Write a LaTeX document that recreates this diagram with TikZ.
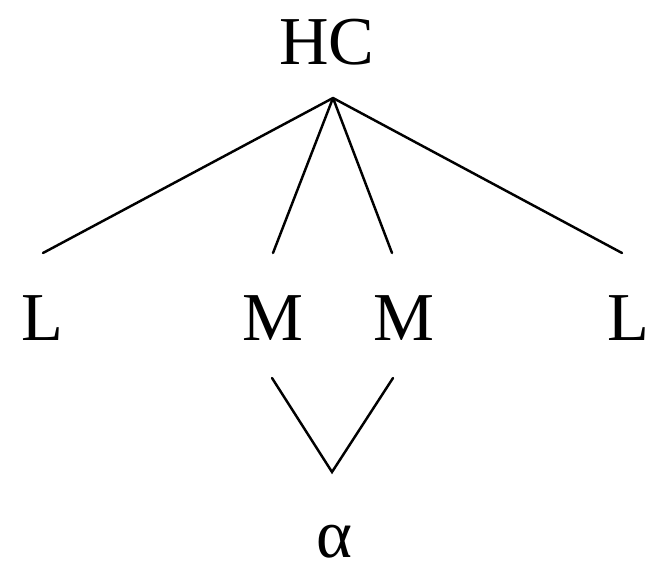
\documentclass[tikz,border=0pt]{standalone}
\usepackage{fontspec}
\setmainfont{Liberation Serif}
\usetikzlibrary{positioning}

\begin{document}
\begin{tikzpicture}[
    x=0.02cm, y=-0.02cm,
    sym/.style={anchor=base, inner sep=0pt, font=\fontsize{39}{46}\selectfont},
    edge/.style={line width=1.4pt, line cap=round}]
\useasboundingbox (0,0) rectangle (651,571);
\node[sym] (hc) at (327,65) {HC};
\node[sym] (l1) at (42,340) {L};
\node[sym] (m1) at (273,340) {M};
\node[sym] (m2) at (404,340) {M};
\node[sym] (l2) at (628,340) {L};
\node[sym] (alpha) at (334,557) {α};
\coordinate (apex) at (333,98);
\coordinate (l1in) at (43,253);
\coordinate (m1in) at (273,253);
\coordinate (m2in) at (392,253);
\coordinate (l2in) at (622,253);
\coordinate (m1out) at (272,378);
\coordinate (m2out) at (393,378);
\coordinate (join) at (332,472);
\draw[edge] (apex) -- (l1in);
\draw[edge] (apex) -- (m1in);
\draw[edge] (apex) -- (m2in);
\draw[edge] (apex) -- (l2in);
\draw[edge] (m1out) -- (join) -- (m2out);
\end{tikzpicture}
\end{document}
